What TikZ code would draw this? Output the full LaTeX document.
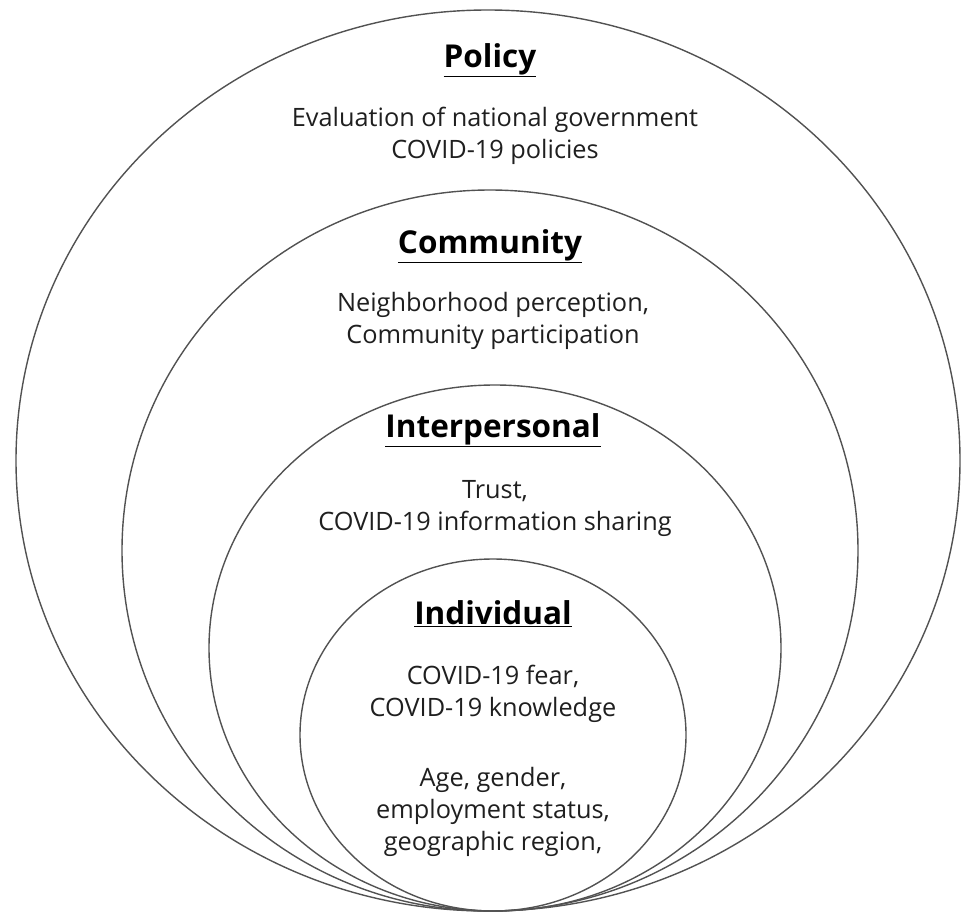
\documentclass[tikz,border=0pt]{standalone}
\usepackage{fontspec}
\setmainfont{Open Sans}
\begin{document}
\begin{tikzpicture}[x=1pt,y=-1pt,
  ring/.style={draw=black!68,line width=1.4pt},
  head/.style={font=\fontsize{31.5}{36}\selectfont\bfseries,inner sep=0pt},
  body/.style={font=\fontsize{25.3}{32}\selectfont,align=center,inner sep=0pt,text=black!88}]
\useasboundingbox (0,0) rectangle (964,913);
% nested levels, all touching at the bottom
\draw[ring] (488,460.5) ellipse [x radius=472, y radius=450.5];
\draw[ring] (490,550.5) ellipse [x radius=368, y radius=360.5];
\draw[ring] (495,648) ellipse [x radius=286, y radius=263];
\draw[ring] (493,735) ellipse [x radius=193, y radius=176];
% labels
\node[head] (policy) at (490,60) {\underline{Policy}};
\node[body] (policytxt) at (495,136) {Evaluation of national government\\COVID-19 policies};
\node[head] (community) at (490,246) {\underline{Community}};
\node[body] (communitytxt) at (493,321) {Neighborhood perception,\\Community participation};
\node[head] (interpersonal) at (493,430) {\underline{Interpersonal}};
\node[body] (interpersonaltxt) at (495,509) {Trust,\\COVID-19 information sharing};
\node[head] (individual) at (493,614) {\underline{Individual}};
\node[body] (individualtxt) at (493,694) {COVID-19 fear,\\COVID-19 knowledge};
\node[body] (demographics) at (493,812) {Age, gender,\\employment status,\\geographic region,};
\end{tikzpicture}
\end{document}
